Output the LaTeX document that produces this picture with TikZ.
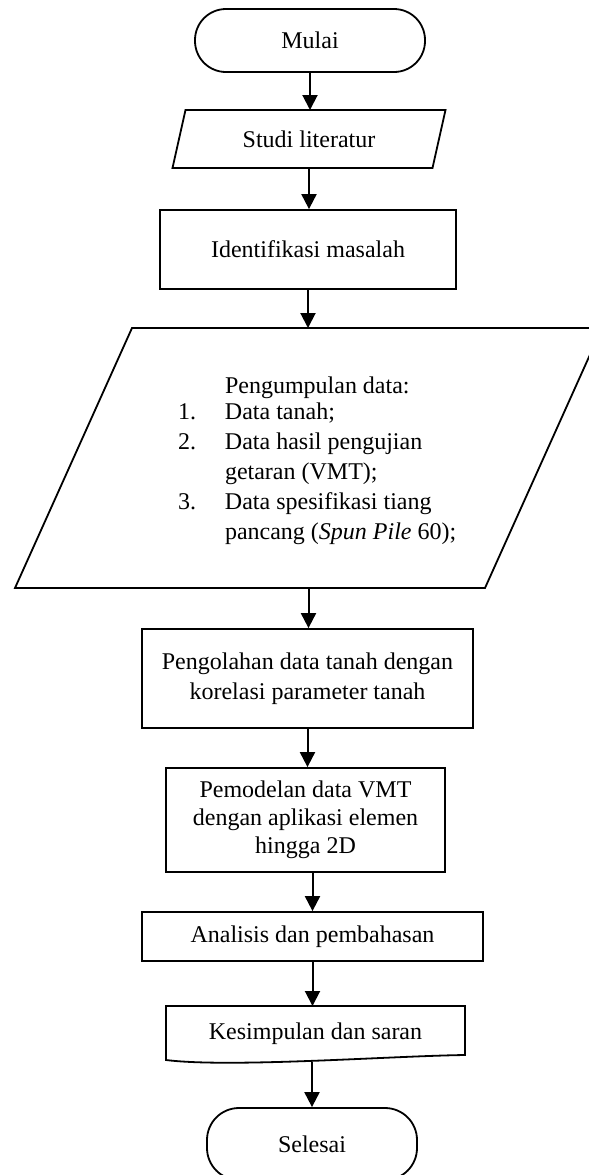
\documentclass[tikz,border=0pt]{standalone}
\usepackage{fontspec}
\setmainfont{Liberation Serif}
\usetikzlibrary{arrows.meta}
\begin{document}
\begin{tikzpicture}[x=0.5pt,y=-0.5pt,
  every node/.style={font=\fontsize{12}{15}\selectfont},
  ln/.style={line width=0.9pt},
  frame/.style={inner sep=0pt, outer sep=0pt},
  boxnode/.style={draw, ln, rectangle, align=center, inner sep=0pt},
  term/.style={draw, ln, rectangle, rounded corners=15.5pt, inner sep=0pt},
  arr/.style={line width=1pt, -{Triangle[length=7.5pt,width=7.5pt]}}
]
\useasboundingbox (0,0) rectangle (589,1175);
\clip (0,0) rectangle (589,1175);

% Mulai
\node[term, minimum width=115pt, minimum height=31.5pt] (mulai) at (310,40.5) {Mulai};

% Studi literatur (parallelogram)
\node[frame, minimum width=130pt, minimum height=29pt] (studi) at (309,139) {Studi literatur};
\draw[ln] ([xshift=3.25pt]studi.north west) -- ([xshift=3.25pt]studi.north east)
  -- ([xshift=-3.25pt]studi.south east) -- ([xshift=-3.25pt]studi.south west) -- cycle;

% Identifikasi masalah
\node[boxnode, minimum width=148pt, minimum height=39.5pt] (ident) at (308,249.5) {Identifikasi masalah};

% Pengumpulan data (parallelogram)
\node[frame, minimum width=235pt, minimum height=130pt] (kumpul) at (308.5,458) {};
\draw[ln] ([xshift=29.25pt]kumpul.north west) -- ([xshift=29.25pt]kumpul.north east)
  -- ([xshift=-29.25pt]kumpul.south east) -- ([xshift=-29.25pt]kumpul.south west) -- cycle;
\node[frame, anchor=west] (list) at (178,460) {\begin{tabular}{@{}p{23.5pt}@{}l@{}}
 & Pengumpulan data:\\[-2pt]
1. & Data tanah;\\
2. & Data hasil pengujian\\
 & getaran (VMT);\\
3. & Data spesifikasi tiang\\
 & pancang (\textit{Spun Pile} 60);
\end{tabular}};

% Pengolahan
\node[boxnode, minimum width=165.5pt, minimum height=49.5pt] (olah) at (307.5,678.5) {Pengolahan data tanah dengan\\korelasi parameter tanah};

% Pemodelan
\node[boxnode, minimum width=139.5pt, minimum height=52pt] (model) at (305.5,820) {Pemodelan data VMT\\[-1pt]dengan aplikasi elemen\\[-1pt]hingga 2D};

% Analisis
\node[boxnode, minimum width=170.5pt, minimum height=24.5pt] (anal) at (312.5,936.5) {Analisis dan pembahasan};

% Kesimpulan (document shape)
\node[frame, minimum width=149.5pt, minimum height=28pt] (simpul) at (315.5,1034) {Kesimpulan dan saran};
\draw[ln] (simpul.north west) -- (simpul.north east) -- (465,1055)
  .. controls (390,1056) and (230,1068) .. (166,1060) -- cycle;

% Selesai
\node[term, rounded corners=16pt, minimum width=105pt, minimum height=36pt] (selesai) at (312,1144) {Selesai};

% connectors
\draw[arr] (mulai.south) -- (mulai.south |- studi.north);
\draw[arr] (studi.south) -- (studi.south |- ident.north);
\draw[arr] (ident.south) -- (ident.south |- kumpul.north);
\draw[arr] (kumpul.south) -- (kumpul.south |- olah.north);
\draw[arr] (olah.south) -- (olah.south |- model.north);
\draw[arr] (anal.north |- model.south) -- (anal.north);
\draw[arr] (anal.south) -- (anal.south |- simpul.north);
\draw[arr] (selesai.north |- simpul.south) -- (selesai.north);
\end{tikzpicture}
\end{document}
